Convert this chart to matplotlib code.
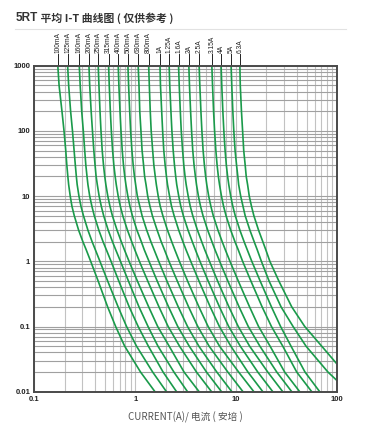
import matplotlib
matplotlib.use('Agg')
import matplotlib.pyplot as plt
from matplotlib.ticker import LogLocator, NullFormatter

# 额定电流标签
ratings = ['100mA', '125mA', '160mA', '200mA', '250mA', '315mA', '400mA', '500mA',
           '630mA', '800mA', '1A', '1.25A', '1.6A', '2A', '2.5A', '3.15A', '4A', '5A', '6.3A']

# 时间 (秒)
times = [1000, 500, 200, 100, 50, 30, 20, 15, 10, 7, 5, 3, 2, 1.5, 1, 0.5, 0.2, 0.1, 0.05, 0.02, 0.01]

# 各曲线在对应时间下的电流 (A)
c_100mA = [0.171, 0.176, 0.188, 0.197, 0.205, 0.210, 0.215, 0.219, 0.227, 0.236, 0.249, 0.275, 0.303, 0.327, 0.362, 0.429, 0.533, 0.640, 0.786, 1.13, 1.57]
c_125mA = [0.214, 0.219, 0.229, 0.239, 0.248, 0.255, 0.261, 0.266, 0.277, 0.290, 0.307, 0.340, 0.374, 0.403, 0.447, 0.533, 0.677, 0.821, 1.03, 1.49, 2.04]
c_160mA = [0.279, 0.285, 0.295, 0.306, 0.316, 0.324, 0.333, 0.340, 0.354, 0.372, 0.393, 0.436, 0.480, 0.518, 0.576, 0.687, 0.872, 1.07, 1.35, 1.89, 2.57]
c_200mA = [0.348, 0.354, 0.366, 0.377, 0.389, 0.400, 0.410, 0.421, 0.439, 0.461, 0.487, 0.540, 0.595, 0.641, 0.714, 0.856, 1.09, 1.34, 1.68, 2.42, 3.30]
c_250mA = [0.430, 0.437, 0.448, 0.458, 0.471, 0.485, 0.499, 0.512, 0.535, 0.562, 0.594, 0.661, 0.728, 0.782, 0.869, 1.05, 1.36, 1.67, 2.17, 3.05, 4.30]
c_315mA = [0.545, 0.553, 0.567, 0.580, 0.597, 0.614, 0.633, 0.649, 0.678, 0.712, 0.753, 0.838, 0.923, 0.991, 1.10, 1.33, 1.72, 2.12, 2.75, 4.05, 5.71]
c_400mA = [0.679, 0.689, 0.707, 0.723, 0.744, 0.765, 0.788, 0.809, 0.845, 0.887, 0.938, 1.04, 1.15, 1.23, 1.37, 1.65, 2.14, 2.64, 3.43, 5.09, 7.17]
c_500mA = [0.847, 0.860, 0.882, 0.901, 0.928, 0.955, 0.983, 1.01, 1.05, 1.11, 1.17, 1.30, 1.43, 1.54, 1.71, 2.06, 2.67, 3.30, 4.27, 6.44, 9.07]
c_630mA = [1.07, 1.09, 1.11, 1.14, 1.17, 1.21, 1.24, 1.28, 1.33, 1.40, 1.48, 1.65, 1.81, 1.95, 2.16, 2.61, 3.38, 4.17, 5.40, 8.28, 11.7]
c_800mA = [1.36, 1.38, 1.41, 1.44, 1.49, 1.53, 1.58, 1.62, 1.69, 1.77, 1.88, 2.09, 2.30, 2.47, 2.74, 3.30, 4.28, 5.28, 6.85, 10.6, 15.0]
c_1A = [1.76, 1.78, 1.83, 1.87, 1.92, 1.98, 2.04, 2.09, 2.19, 2.29, 2.43, 2.70, 2.97, 3.19, 3.55, 4.28, 5.54, 6.83, 8.86, 13.1, 18.4]
c_1_25A = [2.17, 2.20, 2.26, 2.31, 2.38, 2.45, 2.52, 2.58, 2.70, 2.83, 3.00, 3.34, 3.68, 3.95, 4.38, 5.28, 6.84, 8.44, 11.0, 16.4, 23.1]
c_1_6A = [2.69, 2.73, 2.80, 2.86, 2.95, 3.03, 3.12, 3.20, 3.35, 3.51, 3.72, 4.14, 4.56, 4.89, 5.44, 6.55, 8.48, 10.5, 13.6, 20.6, 29.0]
c_2A = [3.40, 3.45, 3.54, 3.62, 3.72, 3.83, 3.95, 4.05, 4.23, 4.44, 4.70, 5.23, 5.76, 6.18, 6.87, 8.28, 10.7, 13.2, 17.2, 25.3, 35.6]
c_2_5A = [4.30, 4.37, 4.48, 4.58, 4.71, 4.85, 4.99, 5.12, 5.35, 5.62, 5.94, 6.61, 7.28, 7.82, 8.69, 10.5, 13.6, 16.7, 21.7, 30.3, 42.7]
c_3_15A = [5.75, 5.84, 5.98, 6.12, 6.30, 6.48, 6.67, 6.85, 7.16, 7.51, 7.95, 8.84, 9.74, 10.5, 11.6, 14.0, 18.1, 22.4, 29.0, 39.9, 56.2]
c_4A = [7.10, 7.21, 7.39, 7.56, 7.78, 8.00, 8.24, 8.46, 8.84, 9.27, 9.81, 10.9, 12.0, 12.9, 14.3, 17.3, 22.4, 27.6, 35.0, 48.2, 67.4]
c_5A = [8.92, 9.06, 9.28, 9.49, 9.77, 10.1, 10.4, 10.6, 11.1, 11.7, 12.3, 13.7, 15.1, 16.2, 17.8, 21.2, 27.9, 36.7, 49.3, 81.4, 131]
c_6_3A = [10.9, 11.0, 11.3, 11.6, 11.9, 12.3, 12.6, 13.0, 13.5, 14.2, 15.0, 16.7, 18.4, 19.7, 21.6, 26.5, 35.6, 47.9, 70.5, 117, 168]

curves = [c_100mA, c_125mA, c_160mA, c_200mA, c_250mA, c_315mA, c_400mA, c_500mA,
          c_630mA, c_800mA, c_1A, c_1_25A, c_1_6A, c_2A, c_2_5A, c_3_15A, c_4A, c_5A, c_6_3A]

x_ticks = [0.1, 1, 10, 100]
x_ticklabels = ['0.1', '1', '10', '100']
y_ticks = [0.01, 0.1, 1, 10, 100, 1000]
y_ticklabels = ['0.01', '0.1', '1', '10', '100', '1000']

cjk = ['Noto Sans CJK SC', 'DejaVu Sans']

fig = plt.figure(figsize=(3.82, 4.28), dpi=100)
ax = fig.add_axes([0.0898, 0.0848, 0.7924, 0.7617])

ax.set_xscale('log')
ax.set_yscale('log')
ax.set_xlim(0.1, 100)
ax.set_ylim(0.01, 1000)

# 网格
ax.xaxis.set_minor_locator(LogLocator(base=10, subs=range(2, 10)))
ax.yaxis.set_minor_locator(LogLocator(base=10, subs=range(2, 10)))
ax.xaxis.set_minor_formatter(NullFormatter())
ax.yaxis.set_minor_formatter(NullFormatter())
ax.grid(True, which='both', axis='x', color='#c2c2c2', linewidth=0.8)
ax.grid(True, which='both', axis='y', color='#a0a0a0', linewidth=0.8)
ax.set_axisbelow(True)

for s in ax.spines.values():
    s.set_color('#4a4a4a')
    s.set_linewidth(1.4)

ax.set_xticks(x_ticks)
ax.set_xticklabels(x_ticklabels)
ax.set_yticks(y_ticks)
ax.set_yticklabels(y_ticklabels)
ax.tick_params(which='both', length=0, labelsize=5.5, colors='#222222', pad=3)
for lab in ax.get_xticklabels() + ax.get_yticklabels():
    lab.set_family('Liberation Sans')
    lab.set_fontweight('bold')

# 曲线
for name, cur in zip(ratings, curves):
    ax.plot(cur, times, color='#1a9a4a', linewidth=1.2, solid_joinstyle='round')
    ax.plot([cur[0], cur[0]], [1, 1.035], transform=ax.get_xaxis_transform(),
            color='#222222', linewidth=0.7, clip_on=False)
    ax.text(cur[0], 1.04, name, transform=ax.get_xaxis_transform(),
            rotation=90, ha='center', va='bottom', fontsize=4.8,
            family='Liberation Sans', color='#222222')

ax.set_xlabel('CURRENT(A)/ 电流 ( 安培 )', family=cjk, fontsize=7, color='#555555', labelpad=6)

# 标题
t1 = fig.text(0.04, 0.952, '5RT', fontsize=8.5, fontweight='bold', color='#333333',
              family='Liberation Sans', va='baseline')
ax.annotate(' 平均 I-T 曲线图 ( 仅供参考 )', xy=(1, 0), xycoords=t1, va='bottom',
            fontsize=7.8, fontweight='bold', color='#333333', family=cjk,
            annotation_clip=False)

# 标题下的分隔线
fig.add_artist(plt.Line2D([0.04, 0.905], [0.932, 0.932], transform=fig.transFigure,
                          color='#e2e2e2', linewidth=0.8))

# 左侧被裁掉的纵轴标题
fig.text(-0.012, 0.51, 'TIME(S)/时间 ( 秒 )', rotation=90, family=cjk, fontsize=6.5,
         color='#d8d8d8', ha='center', va='center')

fig.savefig('out.png', dpi=100)
